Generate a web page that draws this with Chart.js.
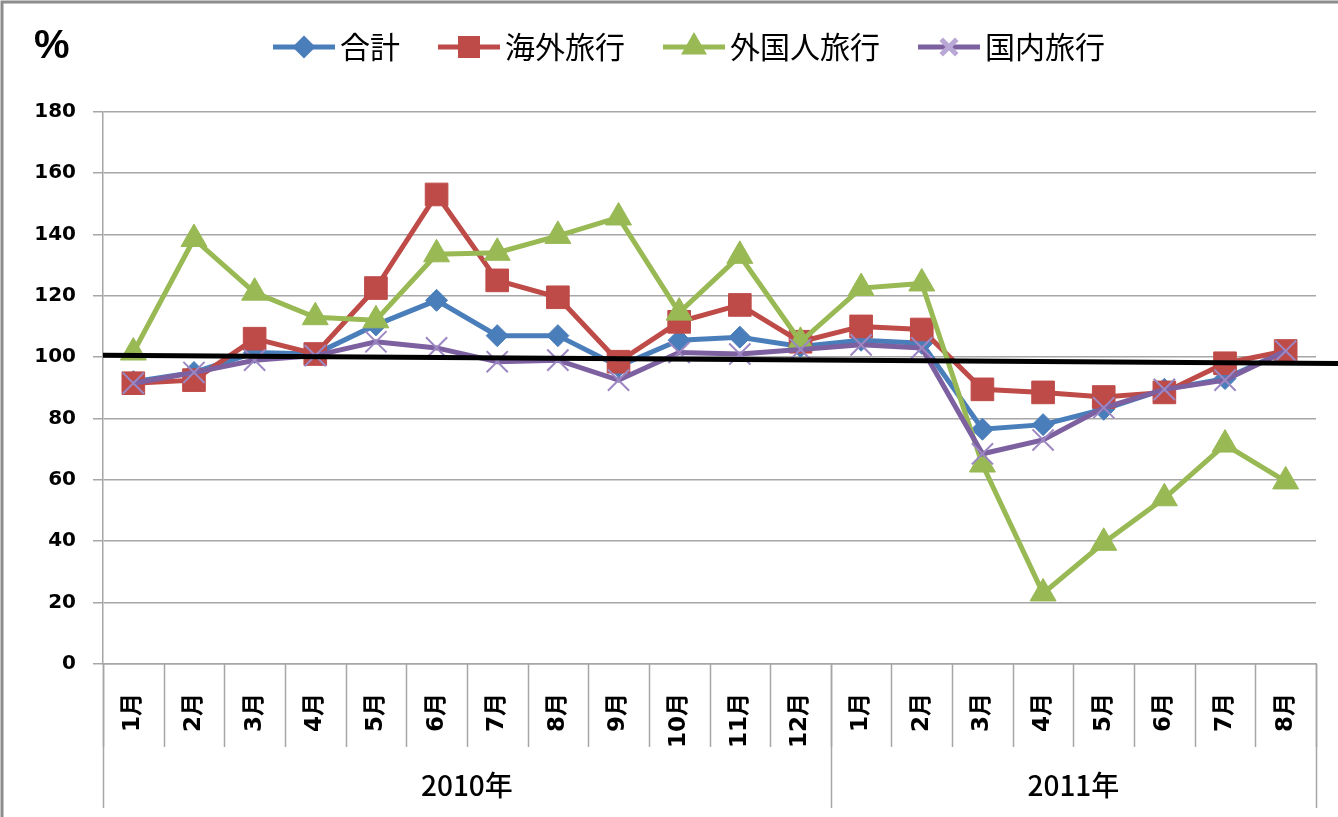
<!DOCTYPE html>
<html>
<head>
<meta charset="utf-8">
<script src="https://cdn.jsdelivr.net/npm/chart.js@4.4.0/dist/chart.umd.min.js"></script>
<style>
html, body { margin: 0; padding: 0; background: #fff; }
</style>
</head>
<body>
<canvas id="chart" width="1338" height="817"></canvas>
<script>
// month labels and year groups
var months = ['1月', '2月', '3月', '4月', '5月', '6月', '7月', '8月', '9月', '10月', '11月', '12月',
              '1月', '2月', '3月', '4月', '5月', '6月', '7月', '8月'];
var years = ['2010年', '2011年'];
var yearSpans = [12, 8];

// series (% of previous year)
var totalVals    = [92, 95, 101.5, 101, 110.5, 118.5, 107, 107, 97, 105.5, 106.5, 103.5, 105.5, 104.5, 76.5, 78, 83, 89.5, 93, 102];
var overseasVals = [91.5, 92.5, 106, 101, 122.5, 153, 125, 119.5, 98.5, 111.5, 117, 105, 110, 109, 89.5, 88.5, 87, 88.5, 98, 102];
var inboundVals  = [101.5, 138.5, 121, 113, 112, 133.5, 134, 139.5, 145.5, 114.5, 133, 105, 122.5, 124, 65, 23, 39.5, 54, 71.5, 59.5];
var domesticVals = [91.5, 95, 99, 100.5, 105, 103, 98.5, 99, 92.5, 101.5, 101, 102.5, 104, 103, 68.5, 73, 83.5, 89.5, 92.5, 102];

// black trend line: value at first month and at last month
var trendEnds = [100.5, 98.0];

var yMin = 0, yMax = 180, yStep = 20;

var labelFont = '"DejaVu Sans", "Noto Sans CJK JP", sans-serif';
var cjkFont = '"Noto Sans CJK JP", sans-serif';

function legendIcon(color, style, radius, markColor) {
    var c = document.createElement('canvas');
    c.width = 82; c.height = 30;
    var g = c.getContext('2d');
    g.strokeStyle = color;
    g.lineWidth = 5;
    g.beginPath(); g.moveTo(20, 15); g.lineTo(82, 15); g.stroke();
    g.fillStyle = color;
    g.strokeStyle = markColor || color;
    Chart.helpers.drawPoint(g, {pointStyle: style, radius: radius, borderWidth: 2}, 51, 15);
    return c;
}

var extras = {
    id: 'extras',
    afterDatasetsDraw: function(chart) {
        var ctx = chart.ctx, xs = chart.scales.x, ys = chart.scales.y;
        var x0 = xs.getPixelForValue(0), x1 = xs.getPixelForValue(months.length - 1);
        var slope = (trendEnds[1] - trendEnds[0]) / (x1 - x0);
        var left = chart.chartArea.left, right = chart.width;
        ctx.save();
        ctx.strokeStyle = '#000';
        ctx.lineWidth = 5;
        ctx.beginPath();
        ctx.moveTo(left, ys.getPixelForValue(trendEnds[0] + slope * (left - x0)));
        ctx.lineTo(right, ys.getPixelForValue(trendEnds[0] + slope * (right - x0)));
        ctx.stroke();
        ctx.restore();
    },
    afterDraw: function(chart) {
        var ctx = chart.ctx, xs = chart.scales.x;
        var bottom = chart.chartArea.bottom;
        ctx.save();
        // frame
        ctx.strokeStyle = '#8c8c8c';
        ctx.lineWidth = 3;
        ctx.beginPath();
        ctx.moveTo(2, chart.height); ctx.lineTo(2, 2); ctx.lineTo(chart.width, 2);
        ctx.stroke();
        // month separators
        ctx.strokeStyle = '#a6a6a6';
        ctx.lineWidth = 1.5;
        for (var i = 0; i <= months.length; i++) {
            var x = Math.round(xs.getPixelForValue(i - 0.5)) + 0.5;
            ctx.beginPath(); ctx.moveTo(x, bottom); ctx.lineTo(x, bottom + 83); ctx.stroke();
        }
        // year separators and labels
        var start = 0;
        ctx.fillStyle = '#000';
        ctx.font = '500 28px ' + cjkFont;
        ctx.textAlign = 'center';
        ctx.textBaseline = 'middle';
        for (var k = 0; k <= yearSpans.length; k++) {
            var xb = Math.round(xs.getPixelForValue(start - 0.5)) + 0.5;
            ctx.beginPath(); ctx.moveTo(xb, bottom); ctx.lineTo(xb, bottom + 144); ctx.stroke();
            if (k < yearSpans.length) {
                var xc = xs.getPixelForValue(start - 0.5 + yearSpans[k] / 2);
                ctx.fillText(years[k], xc, bottom + 121);
                start += yearSpans[k];
            }
        }
        // % unit
        ctx.font = 'bold 40px "Liberation Sans", sans-serif';
        ctx.textAlign = 'left';
        ctx.fillText('%', 34, 47);
        ctx.restore();
    }
};

new Chart(document.getElementById('chart').getContext('2d'), {
    type: 'line',
    data: {
        labels: months,
        datasets: [{
            label: '合計',
            data: totalVals,
            borderColor: '#4a7ebb',
            backgroundColor: '#4a7ebb',
            pointStyle: 'rectRot',
            pointRadius: 11,
            pointBorderWidth: 1,
            borderWidth: 5,
            order: 4
        }, {
            label: '海外旅行',
            data: overseasVals,
            borderColor: '#be4b48',
            backgroundColor: '#be4b48',
            pointStyle: 'rect',
            pointRadius: 16,
            pointBorderWidth: 1,
            borderWidth: 5,
            order: 3
        }, {
            label: '外国人旅行',
            data: inboundVals,
            borderColor: '#98b954',
            backgroundColor: '#98b954',
            pointStyle: 'triangle',
            pointRadius: 15,
            pointBorderWidth: 1,
            borderWidth: 5,
            order: 2
        }, {
            label: '国内旅行',
            data: domesticVals,
            borderColor: '#7d60a0',
            backgroundColor: '#7d60a0',
            pointStyle: 'crossRot',
            pointRadius: 15,
            pointBorderColor: '#9c87c3',
            pointBorderWidth: 2,
            borderWidth: 5,
            order: 1
        }]
    },
    options: {
        responsive: false,
        animation: false,
        devicePixelRatio: 1,
        layout: { padding: { top: 4, left: 30, right: 0, bottom: 3 } },
        plugins: {
            tooltip: { enabled: false },
            title: { display: true, text: '', position: 'top', weight: 500, padding: 0, font: { size: 33 } },
            legend: {
                position: 'top',
                labels: {
                    usePointStyle: true,
                    pointStyleWidth: 62,
                    padding: 28,
                    color: '#000',
                    font: { size: 30, family: cjkFont },
                    generateLabels: function(chart) {
                        var icons = [
                            legendIcon('#4a7ebb', 'rectRot', 8),
                            legendIcon('#be4b48', 'rect', 12),
                            legendIcon('#98b954', 'triangle', 10),
                            legendIcon('#7d60a0', 'crossRot', 11, '#b9a8d6')
                        ];
                        return chart.data.datasets.map(function(ds, i) {
                            return { text: ds.label, pointStyle: icons[i], datasetIndex: i, hidden: false,
                                     lineWidth: 0, fillStyle: 'transparent', strokeStyle: 'transparent' };
                        });
                    }
                }
            }
        },
        scales: {
            x: {
                offset: true,
                grid: { display: false },
                border: { display: true, color: '#a6a6a6', width: 1.5 },
                ticks: {
                    autoSkip: false,
                    minRotation: 90,
                    maxRotation: 90,
                    padding: 21,
                    color: '#000',
                    font: { size: 23, weight: 'bold', family: labelFont }
                },
                afterFit: function(scale) { scale.height = 150; }
            },
            y: {
                min: yMin,
                max: yMax,
                ticks: {
                    stepSize: yStep,
                    padding: 17,
                    color: '#000',
                    font: { size: 20, weight: 'bold', family: labelFont }
                },
                grid: { color: '#a6a6a6', lineWidth: 1.5, tickLength: 10 },
                border: { color: '#a6a6a6', width: 1.5 },
                afterFit: function(scale) { scale.width = 73; }
            },
            // empty right-hand strip so the plot ends where the original does
            spacer: {
                type: 'linear',
                position: 'right',
                display: true,
                ticks: { display: false },
                grid: { display: false },
                border: { display: false },
                afterFit: function(scale) { scale.width = 22; }
            }
        }
    },
    plugins: [extras]
});
</script>
</body>
</html>
